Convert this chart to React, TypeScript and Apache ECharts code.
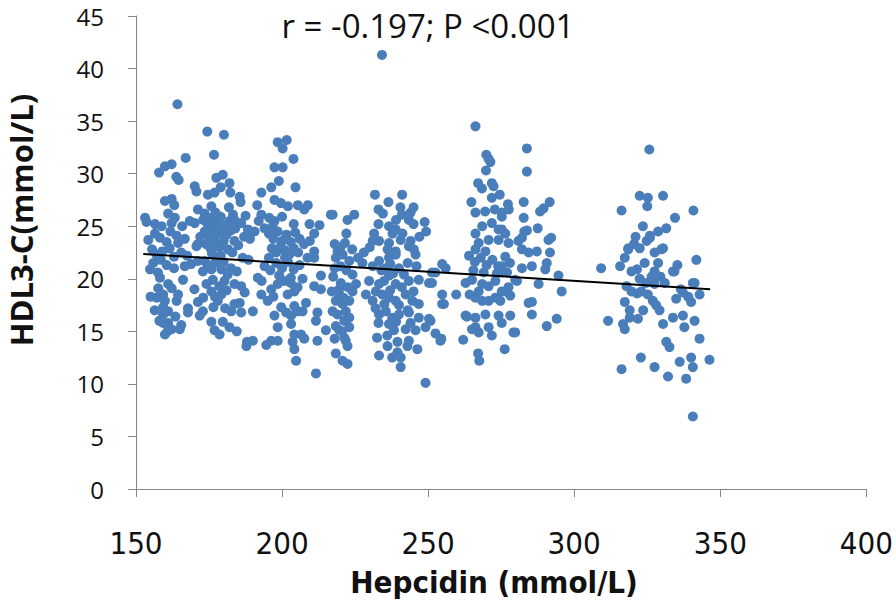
import React, { useEffect, useRef } from "react";
import * as echarts from "echarts";

const xTicks = [150, 200, 250, 300, 350, 400];
const yTicks = [0, 5, 10, 15, 20, 25, 30, 35, 40, 45];
const titleText = "r = -0.197; P <0.001";
const xName = "Hepcidin (mmol/L)";
const yName = "HDL3-C(mmol/L)";

const cluster155 = [
  [164.2,36.6],[167.0,31.5],[162.2,30.9],[159.9,30.7],[157.9,30.1],[163.8,29.7],[164.6,29.4],
  [159.9,27.4],[162.2,27.6],[163.1,27.0],
  [153.1,25.8],[153.6,25.4],[156.5,25.2],[158.8,25.0],[161.0,26.2],[163.3,25.8],[162.2,25.3],[165.8,25.0],
  [154.2,23.7],[156.5,24.3],[158.2,23.9],[160.5,23.5],[161.8,24.5],[163.9,24.1],[166.7,23.8],[164.4,23.4],
  [155.5,22.8],[157.0,22.3],[159.0,22.6],[161.5,22.9],[163.0,22.1],[165.5,22.5],[167.5,22.2],
  [155.9,21.5],[158.5,21.8],[160.5,21.3],[163.0,21.0],[166.7,21.2],
  [158.2,20.1],[161.0,19.5],[166.1,19.9],[157.6,19.1],[162.2,19.1],[159.3,18.5],[164.4,18.5],[157.1,18.2],
  [159.9,17.9],[163.9,17.9],[159.3,17.3],[167.8,17.2],[161.0,16.9],[159.9,16.8],[163.5,16.4],[159.3,16.6],
  [159.3,15.8],[161.0,15.8],[162.2,15.2],[165.0,15.2],[165.5,15.6],[159.9,14.7],[160.8,15.0],[157.5,20.6],
  [154.8,20.9],[156.4,17.0],[158.0,16.0],[155.0,18.3]
];

const cluster177 = [
  [174.4,34.0],[180.1,33.7],[176.7,31.8],[177.5,29.6],[179.7,29.9],[182.0,29.1],[170.1,28.8],[170.7,28.3],
  [174.6,28.0],[176.9,28.2],[179.0,28.7],[182.3,28.2],[185.5,27.8],[185.8,27.3],[171.2,26.6],[173.5,26.2],
  [175.8,26.9],[183.2,26.1],[183.7,25.6],[186.0,25.3],[188.3,24.7],[190.6,24.5],[170.7,23.1],[183.7,23.6],
  [168.4,25.5],[170.1,25.3],[171.2,23.3],[187.5,26.0],
  [173.0,25.6],[174.5,25.2],[176.0,25.8],[177.5,25.4],[179.0,25.9],[180.5,25.1],[182.0,25.5],[173.5,24.5],
  [175.0,24.1],[176.5,24.7],[178.0,24.3],[179.5,24.8],[181.0,24.2],[182.5,24.6],[174.0,23.3],[175.5,22.9],
  [177.0,23.5],[178.5,23.0],[180.0,23.6],[181.5,22.8],[176.0,22.4],[179.0,22.2],[183.0,22.5],[185.0,23.2],
  [187.0,24.0],[189.0,23.8],[172.0,24.0],[184.0,24.8],[177.2,26.3],[181.8,26.8],[186.5,22.0],[188.5,21.8],
  [171.2,17.8],[172.9,16.9],[171.8,16.5],[175.8,15.9],[176.9,15.1],[178.6,14.7],[179.7,15.9],[182.0,15.4],
  [182.6,16.9],[183.7,17.6],[185.5,17.7],[186.0,16.8],[187.2,18.7],[178.0,17.9],[179.2,18.5],[175.8,18.8],
  [174.1,19.5],[176.3,19.9],[180.3,19.8],[183.7,19.5],[186.0,19.3],[172.9,20.7],[175.8,20.9],[179.2,20.9],
  [181.4,20.4],[168.9,21.4],[171.2,21.7],[173.5,21.7],[178.0,22.0],[167.8,16.8],[177.0,18.3],[178.5,19.3],
  [181.0,18.9],[176.5,17.3],[180.5,17.2],[174.5,21.3],[177.0,21.5],[180.0,21.6],[182.5,21.0],[184.5,20.7],
  [170.0,19.0],[173.0,18.2],[184.5,15.0],[188.0,14.0]
];

const cluster200 = [
  [192.9,28.2],[196.3,28.7],[198.9,29.3],[191.5,27.0],[192.9,26.1],[197.4,30.6],[200.2,30.6],[198.5,33.0],
  [200.2,32.4],[201.6,33.2],[203.9,31.4],[204.6,28.7],[197.4,27.5],[199.6,27.2],[202.0,26.9],[205.4,27.0],
  [208.8,27.0],[207.6,26.6],[209.4,25.2],[212.8,25.1],[211.0,24.3],[195.6,25.8],[197.4,25.5],[200.0,25.9],
  [204.0,25.2],[196.8,25.0],[192.0,25.5],[194.0,24.8],[216.7,26.1],
  [195.5,24.3],[197.0,23.8],[198.5,24.5],[200.0,23.6],[201.5,24.2],[203.0,23.5],[204.5,24.4],[206.0,23.8],
  [196.5,22.9],[198.0,22.5],[199.5,23.1],[201.0,22.7],[202.5,22.3],[204.0,22.9],[205.5,22.5],[207.5,23.3],
  [209.5,23.6],[211.0,22.6],
  [190.0,16.9],[191.7,20.1],[192.9,18.5],[195.1,17.9],[196.3,19.0],[198.5,19.5],[200.8,19.8],[201.9,18.5],
  [204.2,18.8],[205.3,19.2],[199.7,17.3],[201.4,16.8],[203.1,16.5],[205.3,16.9],[207.0,16.9],[208.2,17.7],
  [204.2,17.4],[197.4,16.5],[198.5,15.4],[203.1,15.7],[204.2,14.7],[206.5,14.7],[207.6,14.3],[203.6,14.0],
  [204.2,13.3],[204.8,12.2],[211.6,11.0],[212.1,14.1],[215.0,15.1],[211.6,16.0],[212.1,16.8],[211.0,19.3],
  [213.3,19.0],[213.3,20.3],[208.7,22.0],[211.0,22.0],[196.3,14.1],[194.6,13.7],[190.0,14.1],[187.8,13.6],
  [198.5,14.1],[194.0,21.2],[196.0,20.8],[198.0,21.5],[200.0,21.0],[202.0,21.6],[204.0,20.9],[206.0,21.3],
  [199.0,20.3],[203.0,20.1],[195.5,22.0],[201.0,22.0],[193.0,19.8],[197.0,18.3],[203.0,19.6],[207.0,20.0]
];

const cluster222 = [
  [217.3,26.1],[222.4,25.6],[224.7,26.1],[218.0,23.3],[220.0,23.0],[221.5,23.4],[224.0,22.8],[219.0,22.6],
  [222.0,24.3],[218.4,22.0],[220.7,22.3],[223.0,21.7],[224.1,20.4],[220.1,19.6],[219.6,18.5],[218.4,17.9],
  [220.7,17.6],[221.8,16.9],[219.0,16.6],[223.0,16.3],[221.3,16.0],[218.4,15.5],[223.0,15.4],[221.3,14.4],
  [221.8,14.1],[222.4,13.6],[218.4,12.9],[220.7,12.2],[222.4,11.9],[224.1,18.8],[225.3,19.5],[223.0,17.9],
  [217.3,16.9],[219.6,15.1],[218.0,21.0],[220.0,21.2],[222.0,20.8],[217.5,20.2],[219.5,19.0],[221.0,18.2],
  [222.5,19.2],[217.0,18.8],[220.5,15.0],[218.0,14.3],[226.0,22.0],[227.5,21.5]
];

const cluster240 = [
  [234.2,41.3],[231.8,28.0],[241.1,28.0],[236.4,27.3],[234.5,26.2],[233.0,26.6],[240.5,26.8],[241.0,26.1],
  [245.0,26.8],[244.0,26.3],[243.4,25.6],[245.0,25.2],[248.8,25.4],[249.3,24.5],
  [231.5,24.3],[231.0,23.6],[233.2,23.6],[236.6,25.0],[237.8,24.3],[238.9,24.7],[241.2,24.3],[240.6,23.7],
  [244.0,23.6],[243.4,23.1],[245.1,22.8],[236.1,22.8],[238.9,22.6],[236.6,23.4],
  [229.8,19.8],[228.7,18.5],[232.1,18.8],[231.0,17.9],[233.2,19.5],[234.9,19.8],[236.6,20.3],[238.9,19.5],
  [241.7,20.4],[243.4,19.8],[246.8,19.9],[250.3,19.6],[234.3,18.5],[236.6,18.2],[238.9,17.9],[242.3,18.5],
  [244.6,17.9],[246.8,17.6],[233.2,16.6],[235.5,16.9],[237.7,16.3],[240.0,16.6],[243.4,16.8],[246.8,16.3],
  [236.6,15.7],[238.3,15.1],[242.3,15.2],[245.7,15.1],[250.3,16.2],[249.1,15.4],[236.1,13.6],[239.5,14.0],
  [243.4,14.1],[246.3,13.3],[242.9,13.6],[233.2,12.7],[237.7,12.5],[239.5,13.0],[240.6,12.5],[240.6,11.6],
  [249.1,10.1],[245.7,22.3],[238.9,22.3],[236.6,22.0],[233.2,21.7],[235.5,21.0],
  [231.0,21.2],[234.0,20.8],[237.0,21.4],[240.0,21.0],[243.0,21.5],[246.0,21.2],[238.0,20.5],[241.0,19.2],
  [237.0,18.9],[245.0,18.8],[232.0,17.2],[240.0,17.5],[243.0,17.0],[235.0,17.6],[233.0,15.8],[239.0,15.9],
  [244.0,15.8],[232.5,14.4],[236.0,14.6],[228.0,22.5],[230.0,23.0],[247.0,24.0],[233.0,25.2],[239.0,25.6],
  [251.3,20.6],[251.3,19.6],[254.8,18.5],[254.8,17.6],[250.8,16.0],[252.5,14.8],[254.2,14.1]
];

const cluster258 = [
  [254.8,21.4],[252.5,20.6],[255.4,17.6],[259.6,18.5],[262.0,14.2],[254.5,14.3],[256.0,21.0]
];

const cluster270 = [
  [266.2,34.5],[269.9,31.8],[270.7,31.4],[271.3,31.1],[269.8,30.3],[267.1,29.1],[268.4,28.6],[271.8,29.1],
  [272.4,28.8],[271.8,27.7],[274.5,28.0],[264.8,27.3],[266.2,26.3],[269.5,26.4],[272.8,26.6],[275.2,26.3],
  [277.6,26.6],[283.8,32.4],[283.8,30.2],[282.7,27.3],[282.7,25.8],[282.9,24.5],[277.3,27.1],[275.2,25.9],
  [266.2,24.3],[268.5,25.0],[271.8,25.3],[274.1,24.7],[276.4,24.3],[267.3,23.4],[270.7,23.7],[274.1,23.7],
  [277.5,23.4],[280.9,23.6],[282.1,22.8],[266.2,22.8],[269.6,22.6],[275.2,24.7],[284.4,22.5],[287.2,22.6],
  [291.2,23.7],[291.7,22.5],[290.6,21.5],[290.1,20.9],[285.5,21.2],[282.1,21.0],[276.4,22.1],[275.2,21.2],
  [275.2,20.6],[279.8,19.9],[278.1,18.4],[276.4,18.8],
  [264.0,22.2],[266.0,21.6],[268.0,22.0],[270.0,21.3],[272.0,21.8],[274.0,21.2],[278.0,21.5],[265.5,20.8],
  [269.0,20.6],[273.5,20.5],[277.0,20.6],
  [262.8,19.6],[265.0,19.9],[264.2,18.5],[266.2,18.2],[267.3,18.8],[268.5,19.5],[270.7,19.3],[273.0,19.8],
  [275.2,18.8],[277.5,19.2],[280.4,19.8],[268.5,17.9],[270.7,17.9],[273.0,18.2],[262.8,16.5],[266.2,16.3],
  [269.6,16.6],[274.1,16.5],[278.1,16.5],[265.0,15.2],[267.3,14.9],[270.7,15.4],[271.8,14.6],[275.2,15.8],
  [279.2,14.9],[276.2,13.3],[267.1,12.9],[267.5,12.2],[284.4,17.7],[274.7,17.9],[285.5,16.6],[290.6,15.5],
  [294.0,16.2],[279.8,14.9],[295.7,18.8],[294.6,20.3],[287.8,19.5],[285.5,17.8],[263.3,16.4],[266.2,15.4],
  [288.3,26.4],[289.5,26.7],[291.6,27.3],[287.5,24.8],[283.8,24.6],[292.1,23.9],[282.1,23.9]
];

const cluster325 = [
  [325.7,32.3],[322.4,27.9],[325.2,27.7],[325.0,26.9],[330.4,27.9],[316.2,26.5],[334.5,25.8],[340.8,26.5],
  [325.9,24.1],[328.7,24.5],[309.2,21.0],[315.7,21.2],[318.5,22.8],[320.5,23.3],[324.8,23.6],[325.9,23.9],
  [329.8,22.8],[327.5,22.5],[317.3,22.0],[319.6,20.7],[321.5,20.9],[324.1,21.5],[328.7,21.5],[327.5,20.7],
  [326.5,20.2],[329.5,20.2],[333.8,20.7],[335.3,21.3],[341.8,21.8],[322.4,20.0],[324.5,19.6],[327.5,19.5],
  [331.0,19.6],[317.9,19.3],[319.6,18.8],[321.5,18.6],[323.0,18.8],[325.2,18.5],[326.9,17.9],[328.0,17.5],
  [329.2,17.0],[317.3,17.8],[319.0,17.0],[319.0,16.3],[323.6,17.0],[321.8,16.2],[316.7,15.7],[317.3,15.2],
  [311.6,16.0],[330.4,15.7],[333.8,16.3],[337.2,16.5],[334.9,18.1],[337.2,18.7],[340.0,17.8],[341.2,19.6],
  [342.9,18.5],[337.7,15.4],[341.2,16.0],[331.5,14.0],[332.6,13.5],[342.9,14.3],[322.8,12.5],[316.2,11.4],
  [327.5,11.6],[336.1,12.1],[340.0,12.5],[340.6,11.6],[332.1,10.7],[338.3,10.5],[346.3,12.3],[340.6,6.9],
  [318.5,22.9],[322.4,22.9],[330.4,22.9],[334.3,20.7],[340.6,19.6],[336.5,19.0],[339.0,18.3],[321.0,24.0],
  [323.5,25.0],[331.5,24.8]
];

const trendX = [152.5, 346.5];
const trendY = [22.35, 19.0];

export default function App() {
  const ref = useRef<HTMLDivElement>(null);
  useEffect(() => {
    document.body.style.margin = "0";
    const chart = echarts.init(ref.current!, undefined, { renderer: "svg" });
    const points = [
      ...cluster155, ...cluster177, ...cluster200, ...cluster222,
      ...cluster240, ...cluster258, ...cluster270, ...cluster325,
    ];
    const narrow = '"Liberation Sans Narrow", "DejaVu Sans Condensed", sans-serif';
    chart.setOption({
      animation: false,
      backgroundColor: "#ffffff",
      grid: { left: 136, right: 27, top: 16, bottom: 119, containLabel: false },
      xAxis: {
        type: "value",
        min: xTicks[0],
        max: xTicks[xTicks.length - 1],
        interval: 50,
        axisLine: { show: true, lineStyle: { color: "#868686", width: 1 } },
        axisTick: { show: true, inside: false, length: 8, lineStyle: { color: "#868686" } },
        splitLine: { show: false },
        axisLabel: { fontSize: 31, fontFamily: narrow, color: "#111", margin: 38 },
      },
      yAxis: {
        type: "value",
        min: yTicks[0],
        max: yTicks[yTicks.length - 1],
        interval: 5,
        axisLine: { show: true, lineStyle: { color: "#868686", width: 1 } },
        axisTick: { show: true, inside: false, length: 8, lineStyle: { color: "#868686" } },
        splitLine: { show: false },
        axisLabel: {
          fontSize: 24,
          fontFamily: "Open Sans",
          color: "#111",
          margin: 32,
        },
      },
      graphic: [
        {
          type: "text",
          x: 428,
          y: 25,
          style: {
            text: titleText,
            fontSize: 33,
            fontFamily: "Open Sans",
            fill: "#111",
            textAlign: "center",
            textVerticalAlign: "middle",
          },
        },
        {
          type: "text",
          x: 21,
          y: 220,
          rotation: Math.PI / 2,
          style: {
            text: yName,
            fontSize: 31,
            fontWeight: "bold",
            fontFamily: "Open Sans",
            fill: "#111",
            textAlign: "center",
            textVerticalAlign: "middle",
          },
        },
        {
          type: "text",
          x: 494,
          y: 582,
          style: {
            text: xName,
            fontSize: 31,
            fontWeight: "bold",
            fontFamily: narrow,
            fill: "#111",
            textAlign: "center",
            textVerticalAlign: "middle",
          },
        },
      ],
      series: [
        {
          type: "scatter",
          data: points,
          symbolSize: 10,
          itemStyle: { color: "#4a7ebb", opacity: 1 },
          z: 2,
        },
        {
          type: "line",
          data: trendX.map((x, i) => [x, trendY[i]]),
          showSymbol: false,
          symbol: "none",
          lineStyle: { color: "#000", width: 2 },
          z: 3,
        },
      ],
    });
    return () => chart.dispose();
  }, []);
  return <div ref={ref} style={{ width: 896, height: 608 }} />;
}
